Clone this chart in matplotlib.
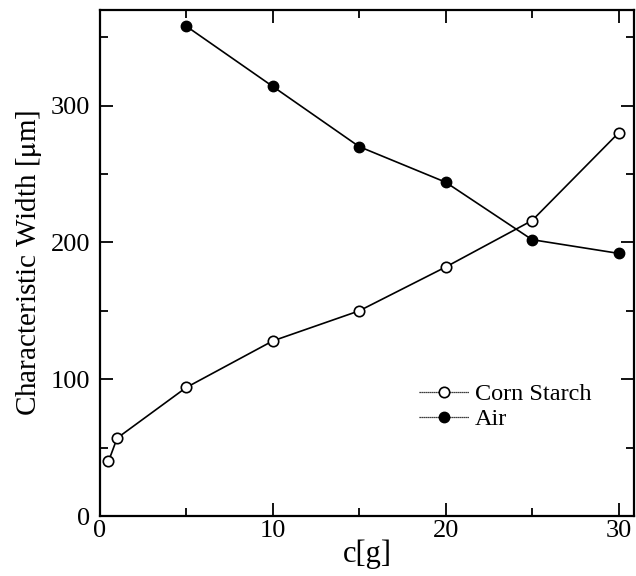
import matplotlib
matplotlib.use("Agg")
import matplotlib.pyplot as plt
from matplotlib.ticker import MultipleLocator

plt.rcParams['font.family'] = ['Liberation Serif', 'DejaVu Serif']
plt.rcParams['mathtext.fontset'] = 'stix'

# Corn starch concentration series
corn_c = [0.5, 1, 5, 10, 15, 20, 25, 30]
corn_width = [40, 57, 94, 128, 150, 182, 216, 280]

# Air series
air_c = [5, 10, 15, 20, 25, 30]
air_width = [358, 314, 270, 244, 202, 192]

x_ticks = [0, 10, 20, 30]
y_ticks = [0, 100, 200, 300]

fig = plt.figure(figsize=(6.36, 5.76), dpi=100)
ax = fig.add_axes([0.157, 0.104, 0.84, 0.879])

ax.plot(corn_c, corn_width, color='black', lw=1.2, marker='o', ms=7.5,
        mfc='white', mec='black', mew=1.2, label='Corn Starch')
ax.plot(air_c, air_width, color='black', lw=1.2, marker='o', ms=7.5,
        mfc='black', mec='black', label='Air')

ax.set_xlim(0, 30.9)
ax.set_ylim(0, 370)
ax.set_xticks(x_ticks)
ax.set_yticks(y_ticks)
ax.xaxis.set_minor_locator(MultipleLocator(5))
ax.yaxis.set_minor_locator(MultipleLocator(50))

ax.tick_params(which='both', direction='in', top=True, right=True,
               labelsize=19, width=1.3)
ax.tick_params(axis='y', pad=7)
ax.tick_params(axis='x', pad=3)
ax.tick_params(which='major', length=9.5)
ax.tick_params(which='minor', length=5.5)
for s in ax.spines.values():
    s.set_linewidth(1.6)

ax.set_xlabel('c[g]', fontsize=22, labelpad=-2)
ax.set_ylabel('Characteristic Width [$\\mathrm{\\mu}$m]', fontsize=21, labelpad=5)

leg = ax.legend(loc='center left', bbox_to_anchor=(0.575, 0.216), frameon=False,
                fontsize=17.5, handlelength=2.05, handletextpad=0.25,
                labelspacing=0.12, borderpad=0)
for line in leg.get_lines():
    line.set_linewidth(0.9)
    line.set_linestyle((0, (1, 0.6)))

fig.savefig('out.png', dpi=100)
